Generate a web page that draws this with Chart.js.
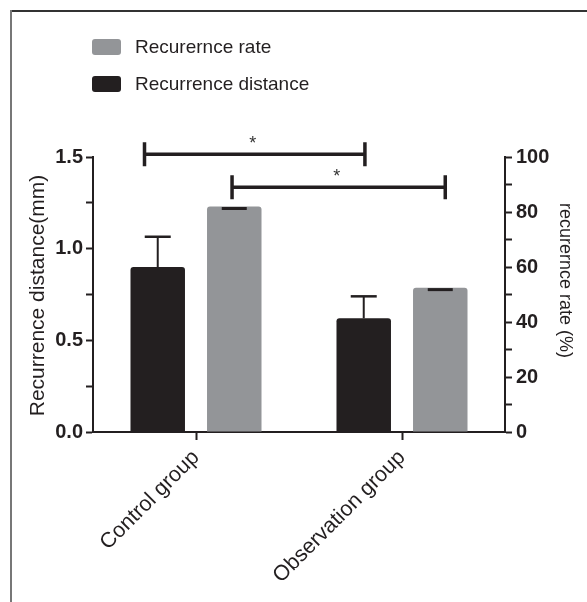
<!DOCTYPE html>
<html>
<head>
<meta charset="utf-8">
<script src="https://cdn.jsdelivr.net/npm/chart.js@4/dist/chart.umd.min.js"></script>
<style>
  html, body { margin: 0; padding: 0; background: #fff; }
  #c { display: block; }
</style>
</head>
<body>
<canvas id="c" width="587" height="602"></canvas>
<script>
// ---- data ----
const categories = ['Control group', 'Observation group'];
const distanceLabel = 'Recurrence distance';
const rateLabel = 'Recurernce rate';
const distance = [0.90, 0.62];
const distanceErr = [0.165, 0.12];
const rate = [82, 52.5];
const rateErr = [0, 0];
const leftTickLabels = [0, 0.5, 1.0, 1.5];
const rightTickLabels = [0, 20, 40, 60, 80, 100];
const leftTitle = 'Recurrence distance(mm)';
const rightTitle = 'recurernce rate (%)';
// significance brackets: category-unit ends, left-axis level
const brackets = [
  { from: -0.25, to: 0.82, level: 1.515, text: '*' },
  { from: 0.175, to: 1.21, level: 1.335, text: '*' }
];

const FONT = '"Liberation Sans", Arial, Helvetica, sans-serif';
const INK = '#231f20';
const GREY = '#939598';

const decor = {
  id: 'decor',
  beforeDraw(chart) {
    const ctx = chart.ctx;
    ctx.save();
    ctx.fillStyle = '#fff';
    ctx.fillRect(0, 0, chart.width, chart.height);
    ctx.restore();
  },
  afterDatasetsDraw(chart) {
    const ctx = chart.ctx;
    ctx.save();
    // error bars
    chart.data.datasets.forEach((ds, i) => {
      const meta = chart.getDatasetMeta(i);
      const scale = chart.scales[ds.yAxisID];
      meta.data.forEach((bar, j) => {
        const e = ds.err[j];
        ctx.strokeStyle = INK;
        if (e > 0) {
          const top = scale.getPixelForValue(ds.data[j] + e);
          ctx.lineWidth = 2;
          ctx.beginPath();
          ctx.moveTo(bar.x, bar.y);
          ctx.lineTo(bar.x, top);
          ctx.stroke();
          ctx.lineWidth = 2.5;
          ctx.beginPath();
          ctx.moveTo(bar.x - 13, top);
          ctx.lineTo(bar.x + 13, top);
          ctx.stroke();
        } else {
          ctx.lineWidth = 3;
          ctx.beginPath();
          ctx.moveTo(bar.x - 12.5, bar.y + 2);
          ctx.lineTo(bar.x + 12.5, bar.y + 2);
          ctx.stroke();
        }
      });
    });
    // brackets
    const xs = chart.scales.x, ys = chart.scales.y;
    brackets.forEach(b => {
      const x1 = xs.getPixelForValue(b.from);
      const x2 = xs.getPixelForValue(b.to);
      const y = ys.getPixelForValue(b.level);
      ctx.strokeStyle = INK;
      ctx.lineWidth = 3.5;
      ctx.beginPath();
      ctx.moveTo(x1, y); ctx.lineTo(x2, y);
      ctx.moveTo(x1, y - 12); ctx.lineTo(x1, y + 12);
      ctx.moveTo(x2, y - 12); ctx.lineTo(x2, y + 12);
      ctx.stroke();
      ctx.fillStyle = '#333';
      ctx.font = '18px ' + FONT;
      ctx.textAlign = 'center';
      ctx.textBaseline = 'middle';
      ctx.fillText(b.text, (x1 + x2) / 2 - 2, y - 10);
    });
    ctx.restore();
  },
  afterDraw(chart) {
    const ctx = chart.ctx;
    const area = chart.chartArea;
    ctx.save();
    // frame
    ctx.lineWidth = 2;
    ctx.strokeStyle = '#333';
    ctx.beginPath(); ctx.moveTo(10, 11); ctx.lineTo(chart.width, 11); ctx.stroke();
    ctx.strokeStyle = '#777';
    ctx.beginPath(); ctx.moveTo(11, 10); ctx.lineTo(11, chart.height); ctx.stroke();
    // legend (rate first, then distance)
    const order = [1, 0];
    ctx.font = '19px ' + FONT;
    ctx.textBaseline = 'middle';
    ctx.textAlign = 'left';
    order.forEach((di, k) => {
      const ds = chart.data.datasets[di];
      const cy = 47 + k * 37;
      ctx.fillStyle = ds.backgroundColor;
      ctx.beginPath();
      ctx.roundRect(92, cy - 8, 29, 16, 3);
      ctx.fill();
      ctx.fillStyle = INK;
      ctx.fillText(ds.label, 135, cy + 1);
    });
    // axis titles
    ctx.fillStyle = INK;
    ctx.textAlign = 'center';
    ctx.textBaseline = 'middle';
    ctx.save();
    ctx.translate(38, (area.top + area.bottom) / 2 + 1);
    ctx.rotate(-Math.PI / 2);
    ctx.font = '21px ' + FONT;
    ctx.fillText(leftTitle, 0, 0);
    ctx.restore();
    ctx.save();
    ctx.translate(565, (area.top + area.bottom) / 2 - 14);
    ctx.rotate(Math.PI / 2);
    ctx.font = '18px ' + FONT;
    ctx.fillText(rightTitle, 0, 0);
    ctx.restore();
    ctx.restore();
  }
};

const near = (v, list) => list.some(t => Math.abs(t - v) < 1e-9);

new Chart(document.getElementById('c'), {
  type: 'bar',
  data: {
    labels: categories,
    datasets: [
      { label: distanceLabel, data: distance, err: distanceErr, yAxisID: 'y',
        backgroundColor: INK, borderRadius: 3, borderSkipped: 'start' },
      { label: rateLabel, data: rate, err: rateErr, yAxisID: 'y1',
        backgroundColor: GREY, borderRadius: 3, borderSkipped: 'start' }
    ]
  },
  options: {
    responsive: false,
    animation: false,
    devicePixelRatio: 1,
    barPercentage: 0.712,
    categoryPercentage: 0.743,
    layout: { padding: { top: 157, left: 0, right: 0, bottom: 0 } },
    plugins: { legend: { display: false }, tooltip: { enabled: false } },
    scales: {
      x: {
        afterFit(s) { s.height = 170; },
        grid: { display: true, drawOnChartArea: false, offset: false,
                tickLength: 8, tickWidth: 2, tickColor: INK },
        border: { display: true, width: 2, color: INK },
        ticks: { maxRotation: 45, minRotation: 45, padding: 5, color: INK,
                 font: { family: FONT, size: 21.5 } }
      },
      y: {
        position: 'left', min: 0, max: 1.5,
        afterFit(s) { s.width = 93; },
        grid: { display: true, drawOnChartArea: false, tickLength: 7, tickWidth: 2, tickColor: INK },
        border: { display: true, width: 2, color: INK },
        ticks: { stepSize: 0.25, padding: 3, color: INK, autoSkip: false,
                 font: { family: FONT, size: 20, weight: 'bold' },
                 callback: v => near(v, leftTickLabels) ? v.toFixed(1) : '' }
      },
      y1: {
        position: 'right', min: 0, max: 100,
        afterFit(s) { s.width = 82; },
        grid: { display: true, drawOnChartArea: false, tickLength: 7, tickWidth: 2, tickColor: INK },
        border: { display: true, width: 2, color: INK },
        ticks: { stepSize: 10, padding: 4, color: INK, autoSkip: false,
                 font: { family: FONT, size: 20, weight: 'bold' },
                 callback: v => near(v, rightTickLabels) ? String(v) : '' }
      }
    }
  },
  plugins: [decor]
});
</script>
</body>
</html>
